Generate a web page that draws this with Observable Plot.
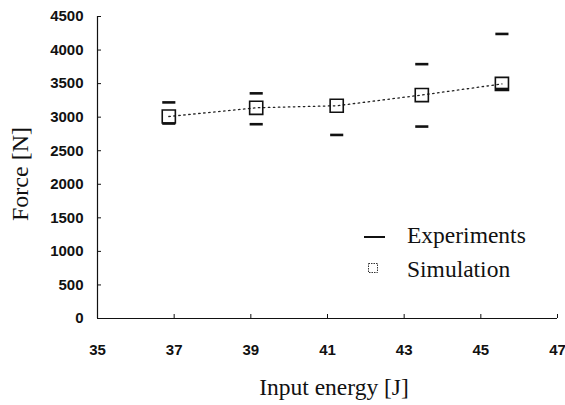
<!DOCTYPE html>
<html>
<head>
<meta charset="utf-8">
<script src="https://cdn.jsdelivr.net/npm/d3@7"></script>
<script src="https://cdn.jsdelivr.net/npm/@observablehq/plot@0.6"></script>
<style>
  html, body { margin: 0; padding: 0; background: #fff; }
</style>
</head>
<body>
<div id="chart"></div>
<script>
// Data
const energy = [36.86, 39.14, 41.24, 43.46, 45.55];
const simulation = [3010, 3140, 3170, 3330, 3495];
const expEnergy = [36.86, 36.86, 39.14, 39.14, 41.24, 43.46, 43.46, 45.55, 45.55];
const expForce  = [3220, 2905, 3355, 2895, 2735, 3790, 2860, 4240, 3420];
const xTicks = [35, 37, 39, 41, 43, 45, 47];
const yTicks = [0, 500, 1000, 1500, 2000, 2500, 3000, 3500, 4000, 4500];
const xLabel = "Input energy [J]";
const yLabel = "Force [N]";
const legendLabels = ["Experiments", "Simulation"];

const sim = energy.map((e, i) => ({energy: e, force: simulation[i]}));
const exp = expEnergy.map((e, i) => ({energy: e, force: expForce[i]}));

const dash = {
  draw(ctx, size) {
    const w = Math.sqrt(size) / 2;
    ctx.moveTo(-w, 0);
    ctx.lineTo(w, 0);
  }
};

const tickFont = {fontFamily: "'Liberation Sans', Arial, sans-serif", fontWeight: "bold", fontSize: 15};
const serif = "'Liberation Serif', 'Times New Roman', serif";

const chart = Plot.plot({
  width: 565,
  height: 405,
  marginLeft: 97,
  marginRight: 8,
  marginTop: 16,
  marginBottom: 87,
  style: {background: "white", color: "#111"},
  x: {domain: [35, 47]},
  y: {domain: [0, 4500]},
  marks: [
    Plot.ruleY([0], {stroke: "#111", strokeWidth: 1.2}),
    Plot.ruleX([35], {stroke: "#111", strokeWidth: 1.2}),
    Plot.axisX({ticks: xTicks, tickSize: -4, tickPadding: 30, label: null, tickFormat: d => String(d), ...tickFont}),
    Plot.axisY({ticks: yTicks, tickSize: -4, tickPadding: 18, label: null, tickFormat: d => String(d), ...tickFont}),
    Plot.line(sim, {x: "energy", y: "force", stroke: "#222", strokeWidth: 1.3, strokeDasharray: "1.5,3.5"}),
    Plot.dot(sim, {x: "energy", y: "force", symbol: "square", r: 7.4, stroke: "#111", strokeWidth: 1.6, fill: "none"}),
    Plot.dot(exp, {x: "energy", y: "force", symbol: dash, r: 7.4, stroke: "#111", strokeWidth: 2.6})
  ]
});

const svg = d3.select(chart);
// axis titles
svg.append("text")
  .attr("x", 334).attr("y", 395)
  .attr("text-anchor", "middle")
  .attr("font-family", serif)
  .attr("font-size", 23.5).attr("fill", "#111")
  .text(xLabel);
svg.append("text")
  .attr("transform", "translate(28,174) rotate(-90)")
  .attr("text-anchor", "middle")
  .attr("font-family", serif)
  .attr("font-size", 24).attr("fill", "#111")
  .text(yLabel);

// legend
const lg = svg.append("g").attr("font-family", serif).attr("font-size", 23.5)
  .attr("fill", "#111").attr("text-anchor", "start");
lg.append("line").attr("x1", 364).attr("x2", 385).attr("y1", 237).attr("y2", 237)
  .attr("stroke", "#111").attr("stroke-width", 2);
lg.append("text").attr("x", 407).attr("y", 243).attr("text-anchor", "start").text(legendLabels[0]);
lg.append("rect").attr("x", 368.5).attr("y", 263.5).attr("width", 9).attr("height", 9)
  .attr("fill", "none").attr("stroke", "#333").attr("stroke-width", 1).attr("stroke-dasharray", "1.5,1");
lg.append("text").attr("x", 407).attr("y", 277).attr("text-anchor", "start").text(legendLabels[1]);

document.getElementById("chart").appendChild(chart);
</script>
</body>
</html>
